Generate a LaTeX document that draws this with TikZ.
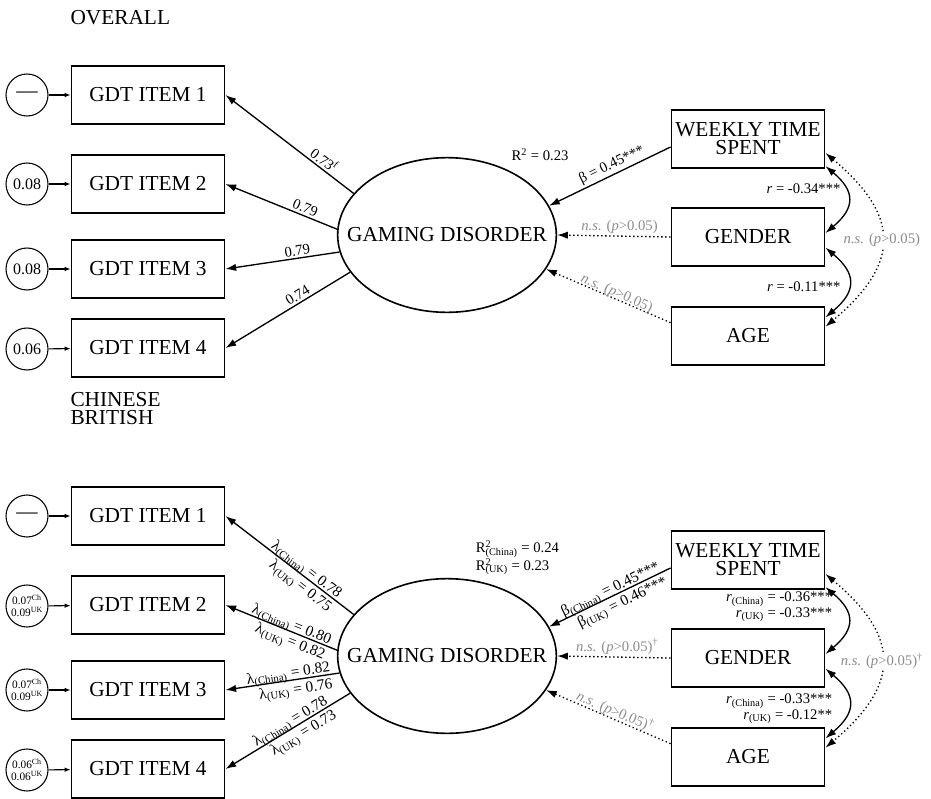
\documentclass[tikz,border=0pt]{standalone}
\usepackage{fontspec}
\setmainfont{Liberation Serif}
\usetikzlibrary{arrows.meta,shapes.geometric}

\definecolor{nsgrey}{RGB}{140,140,140}
\newcommand{\supsub}[2]{\rlap{\textsuperscript{#1}}\textsubscript{#2}}

\tikzset{every picture/.style={line width=0.75pt}}
\tikzset{
  item/.style={draw, line width=1.2pt, minimum width=115pt, minimum height=43.5pt, inner sep=0pt, align=center, font=\fontsize{16}{13.5}\selectfont},
  latent/.style={draw, ellipse, line width=1.2pt, minimum width=164pt, minimum height=116pt, inner xsep=-17pt, inner ysep=0pt, font=\fontsize{16}{14}\selectfont},
  err/.style={draw, circle, line width=0.8pt, minimum size=31.5pt, inner sep=0pt, align=center, font=\fontsize{12}{13}\selectfont},
  errs/.style={err, font=\fontsize{8.5}{9}\selectfont},
  title/.style={anchor=west, inner sep=0pt, font=\fontsize{16}{16}\selectfont},
  lbl/.style={inner sep=1.5pt, font=\fontsize{11}{12}\selectfont},
  lbltwo/.style={inner sep=1pt, align=right, font=\fontsize{11.5}{11.5}\selectfont},
  lblslope/.style={lbltwo, sloped, yshift=-2pt},
  nslbl/.style={lbl, text=nsgrey},
  regr/.style={line width=1pt, -{Latex[length=8pt,width=5.5pt]}},
  nsregr/.style={regr, dotted},
  corr/.style={line width=1pt, {Latex[length=8pt,width=5.5pt]}-{Latex[length=8pt,width=5.5pt]}},
  nscorr/.style={corr, dotted},
  errarr/.style={line width=0.8pt, -{Latex[length=4.5pt,width=3.5pt]}},
}

\begin{document}
\begin{tikzpicture}[x=0.75pt,y=-0.75pt]
\useasboundingbox (0,0) rectangle (931,799);

%%% overall model
% Text Node
\node [title] (ttlall) at (70,18) {OVERALL};

%Shape: Circle
\node [err] (e1) at (27,95) {\fontsize{16}{16}\selectfont —};
\node [err] (e2) at (27,184) {0.08};
\node [err] (e3) at (27,269) {0.08};
\node [err] (e4) at (27,349) {0.06};
%Shape: Rectangle
\node [item] (gdt1) at (148,95) {GDT ITEM 1};
\node [item] (gdt2) at (148,184) {GDT ITEM 2};
\node [item] (gdt3) at (148,269) {GDT ITEM 3};
\node [item] (gdt4) at (148,348) {GDT ITEM 4};
%Shape: Ellipse
\node [latent] (gd) at (447,235) {GAMING DISORDER};
\node [item] (wts) at (748,139) {WEEKLY TIME\\SPENT};
\node [item] (gen) at (748,237) {GENDER};
\node [item] (age) at (748,336) {AGE};

%Straight Lines
\draw [errarr] (e1) -- (gdt1);
\draw [errarr] (e2) -- (gdt2);
\draw [errarr] (e3) -- (gdt3);
\draw [errarr] (e4) -- (gdt4);
\draw [regr] (gd.156) -- (gdt1.east) node [lbl, pos=0.27, sloped, above] {0.73\textsuperscript{f}};
\draw [regr] (gd.177) -- (gdt2.east) node [lbl, pos=0.31, sloped, above] {0.79};
\draw [regr] (gd.189) -- (gdt3.east) node [lbl, pos=0.36, sloped, above] {0.79};
\draw [regr] (gd.201) -- (gdt4.east) node [lbl, pos=0.39, sloped, above] {0.74};
\draw [regr] ([yshift=-6pt]wts.west) -- (gd.16) node [lbl, pos=0.45, sloped, above] {β = 0.45***};
\draw [nsregr] (gen.west) -- (gd.east) node [nslbl, pos=0.45, above] {\textit{n.s.} (\textit{p}>0.05)};
\draw [nsregr] ([yshift=10pt]age.west) -- (gd.341) node [nslbl, pos=0.45, sloped, above=-3pt] {\textit{n.s.} (\textit{p}>0.05)};

%Curve Lines
\draw [corr] ([yshift=2pt]wts.south east) to [out=-40, in=40, looseness=1.5] ([yshift=3pt]gen.east);
\draw [corr] ([yshift=-8pt]gen.east) to [out=-40, in=40, looseness=1.5] ([yshift=14pt]age.east);
\draw [nscorr] ([yshift=-10.5pt]wts.east) to [out=-40, in=40, looseness=1.45] node [nslbl, fill=white, inner sep=1pt] (nswa) {\textit{n.s.} (\textit{p}>0.05)} ([yshift=7pt]age.east);

% Text Node
\node [lbl] (r2) at (540,155) {R\textsuperscript{2} = 0.23};
\node [lbl, anchor=east] (rwg) at (843,189) {\textit{r} = -0.34***};
\node [lbl, anchor=east] (rga) at (843,287) {\textit{r} = -0.11***};

%%% chinese / british model
% Text Node
\node [title] (ttlcn) at (70,400) {CHINESE};
\node [title] (ttluk) at (70,418) {BRITISH};

%Shape: Circle
\node [err] (e5) at (27,516) {\fontsize{16}{16}\selectfont —};
\node [errs] (e6) at (27,606) {0.07\textsuperscript{Ch}\\0.09\textsuperscript{UK}};
\node [errs] (e7) at (27,690) {0.07\textsuperscript{Ch}\\0.09\textsuperscript{UK}};
\node [errs] (e8) at (27,770) {0.06\textsuperscript{Ch}\\0.06\textsuperscript{UK}};
%Shape: Rectangle
\node [item] (gdt5) at (148,516) {GDT ITEM 1};
\node [item] (gdt6) at (148,605) {GDT ITEM 2};
\node [item] (gdt7) at (148,690) {GDT ITEM 3};
\node [item] (gdt8) at (148,769) {GDT ITEM 4};
%Shape: Ellipse
\node [latent] (gdb) at (447,656) {GAMING DISORDER};
\node [item] (wtsb) at (748,560) {WEEKLY TIME\\SPENT};
\node [item] (genb) at (748,658) {GENDER};
\node [item] (ageb) at (748,757) {AGE};

%Straight Lines
\draw [errarr] (e5) -- (gdt5);
\draw [errarr] (e6) -- (gdt6);
\draw [errarr] (e7) -- (gdt7);
\draw [errarr] (e8) -- (gdt8);
\draw [regr] (gdb.156) -- (gdt5.east) node [lblslope, pos=0.40] {λ\textsubscript{(China)} = 0.78\\λ\textsubscript{(UK)} = 0.75};
\draw [regr] (gdb.177) -- (gdt6.east) node [lblslope, pos=0.43] {λ\textsubscript{(China)} = 0.80\\λ\textsubscript{(UK)} = 0.82};
\draw [regr] (gdb.189) -- (gdt7.east) node [lblslope, pos=0.44] {λ\textsubscript{(China)} = 0.82\\λ\textsubscript{(UK)} = 0.76};
\draw [regr] (gdb.201) -- (gdt8.east) node [lblslope, pos=0.45] {λ\textsubscript{(China)} = 0.78\\λ\textsubscript{(UK)} = 0.73};
\draw [regr] ([yshift=-6pt]wtsb.west) -- (gdb.16) node [lblslope, pos=0.47] {β\textsubscript{(China)} = 0.45***\\β\textsubscript{(UK)} = 0.46***};
\draw [nsregr] (genb.west) -- (gdb.east) node [nslbl, pos=0.47, above] {\textit{n.s.} (\textit{p}>0.05)\textsuperscript{\textdagger}};
\draw [nsregr] ([yshift=10pt]ageb.west) -- (gdb.341) node [nslbl, pos=0.47, sloped, above=-2pt] {\textit{n.s.} (\textit{p}>0.05)\textsuperscript{\textdagger}};

%Curve Lines
\draw [corr] ([yshift=2pt]wtsb.south east) to [out=-40, in=40, looseness=1.5] ([yshift=3pt]genb.east);
\draw [corr] ([yshift=-8pt]genb.east) to [out=-40, in=40, looseness=1.5] ([yshift=14pt]ageb.east);
\draw [nscorr] ([yshift=-10.5pt]wtsb.east) to [out=-40, in=40, looseness=1.45] node [nslbl, fill=white, inner sep=1pt] (nswab) {\textit{n.s.} (\textit{p}>0.05)\textsuperscript{\textdagger}} ([yshift=7pt]ageb.east);

% Text Node
\node [lbltwo, anchor=west, align=left, font=\fontsize{11}{12}\selectfont] (r2b) at (474,558) {R\supsub{2}{(China)} = 0.24\\R\supsub{2}{(UK)} = 0.23};
\node [lbltwo, anchor=east, font=\fontsize{11}{10}\selectfont] (rwgb) at (834,607) {\textit{r}\textsubscript{(China)} = -0.36***\\\textit{r}\textsubscript{(UK)} = -0.33***};
\node [lbltwo, anchor=east, font=\fontsize{11}{10}\selectfont] (rgab) at (834,709) {\textit{r}\textsubscript{(China)} = -0.33***\\\textit{r}\textsubscript{(UK)} = -0.12**};

\end{tikzpicture}
\end{document}
